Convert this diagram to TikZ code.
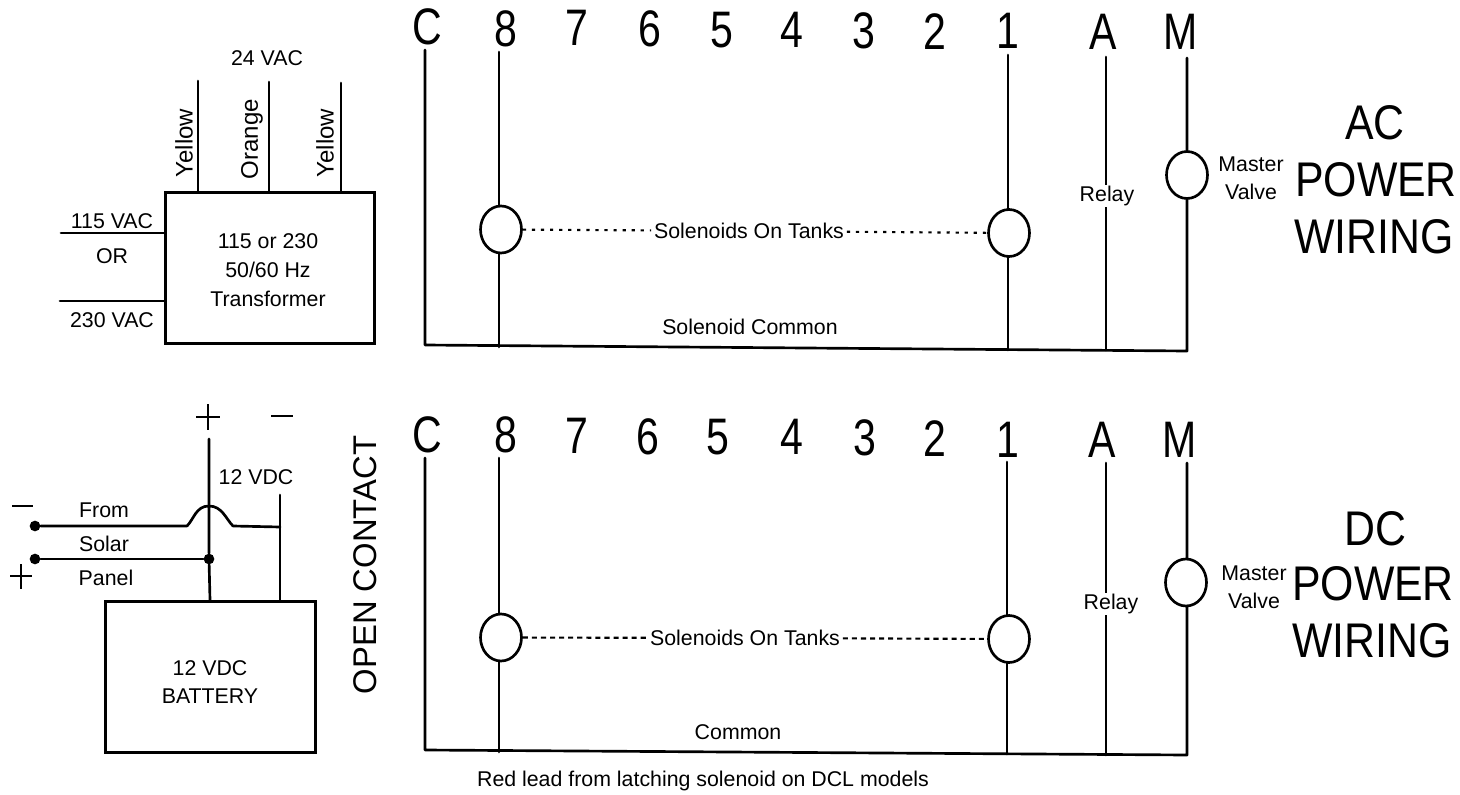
\documentclass[tikz,border=0pt]{standalone}
\usepackage{fontspec}
\usetikzlibrary{shapes.geometric}
\setmainfont{Liberation Sans}
\begin{document}
\begin{tikzpicture}[x=0.75pt,y=-0.75pt,
  wire/.style={line width=2pt,line cap=round,line join=round},
  lab/.style={inner sep=0pt,font=\fontsize{16}{19}\selectfont},
  small/.style={inner sep=0pt,align=center,font=\fontsize{16}{21}\selectfont},
  ctext/.style={inner sep=0pt,align=center,font=\fontsize{16}{21.5}\selectfont},
  vtext/.style={inner sep=0pt,font=\fontsize{18}{20}\selectfont,rotate=90,transform shape},
  term/.style={inner sep=0pt,anchor=base,font=\fontsize{38.5}{40}\selectfont,xscale=0.8,transform shape},
  big/.style={inner sep=0pt,anchor=base,font=\fontsize{36.5}{38}\selectfont,xscale=0.88,transform shape},
  box/.style={draw,line width=2pt,inner sep=0pt,anchor=north west},
  coil/.style={draw,fill=white,ellipse,line width=2pt,minimum width=41*0.75pt,minimum height=47*0.75pt,inner sep=0pt},
  dots/.style={line width=1.6pt,dash pattern=on 2.4pt off 4.4pt},
  dashes/.style={line width=1.6pt,dash pattern=on 3.8pt off 3pt},
  dotn/.style={fill=black,circle,inner sep=0pt,minimum size=8pt}]
\useasboundingbox (0,0) rectangle (1460,795);
\fill[white] (0,0) rectangle (1460,795);

% transformer
\node[box,minimum width=209*0.75pt,minimum height=151*0.75pt] (tr) at (164,191) {};
\node[ctext] (trt) at (268,270) {115 or 230\\50/60 Hz\\Transformer};
\coordinate (y1) at (198,81); \coordinate (o1) at (269,82); \coordinate (y2) at (341,83);
\draw[wire] (y1) -- (y1 |- tr.north);
\draw[wire] (o1) -- (o1 |- tr.north);
\draw[wire] (y2) -- (y2 |- tr.north);
\node[lab] (v24) at (267,58) {24 VAC};
\node[vtext] (ly1) at (184,143) {Yellow};
\node[vtext] (lo) at (252,139) {Orange};
\node[vtext] (ly2) at (325,143) {Yellow};
\coordinate (a115) at (61,233); \coordinate (a230) at (60,301);
\draw[wire] (a115) -- (a115 -| tr.west);
\draw[wire] (a230) -- (a230 -| tr.west);
\node[lab] (l115) at (112,221) {115 VAC};
\node[lab] (lor) at (112,256) {OR};
\node[lab] (l230) at (112,320) {230 VAC};

% battery
\node[box,minimum width=210*0.75pt,minimum height=151*0.75pt] (bat) at (104,600) {};
\node[ctext] (batt) at (210,682) {12 VDC\\BATTERY};
\node[dotn] (sm) at (35,526) {};
\node[dotn] (sp) at (35,559) {};
\node[dotn] (junc) at (209,559) {};
\coordinate (ptop) at (209,439);
\coordinate (ntop) at (280,495);
\draw[wire] (ptop) -- (junc) -- (210,600);
\draw[wire] (ntop) -- (280,600);
\draw[wire] (sm) -- (187,526) .. controls (194,519) and (196,506) .. (209,506) .. controls (222,506) and (226,519) .. (233,526) -- (280,527);
\draw[wire] (sp) -- (junc);
\node[lab] (v12) at (256,477) {12 VDC};
\node[lab] (lf) at (104,510) {From};
\node[lab] (ls) at (104,544) {Solar};
\node[lab] (lp) at (106,578) {Panel};
\coordinate (pa) at (196,417); \coordinate (pb) at (220,417);
\coordinate (pc) at (208,404); \coordinate (pd) at (208,430);
\draw[line width=1.2pt] (pa) -- (pb) (pc) -- (pd);
\coordinate (ma) at (271,416); \coordinate (mb) at (293,416);
\draw[line width=2.2pt] (ma) -- (mb);
\coordinate (la) at (12,506); \coordinate (lb) at (33,506);
\draw[line width=2.2pt] (la) -- (lb);
\coordinate (ra) at (10,576); \coordinate (rb) at (32,576);
\coordinate (rc) at (21,564); \coordinate (rd) at (21,589);
\draw[line width=1.2pt] (ra) -- (rb) (rc) -- (rd);
\node[inner sep=0pt,font=\fontsize{24.6}{26}\selectfont,rotate=90,transform shape] (oc) at (365,565) {OPEN CONTACT};

% AC terminals
\node[term] (tc) at (427,45) {C};
\node[term] (t8) at (506,47) {8};
\node[term] (t7) at (577,46) {7};
\node[term] (t6) at (650,47) {6};
\node[term] (t5) at (722,48) {5};
\node[term] (t4) at (792,48) {4};
\node[term] (t3) at (864,49) {3};
\node[term] (t2) at (935,50) {2};
\node[term] (t1) at (1008,49) {1};
\node[term] (ta) at (1103,50) {A};
\node[term] (tm) at (1181,50) {M};
\coordinate (bc) at (425,345);
\coordinate (bm) at (1187,351);
\draw[wire] (425,50) -- (bc) -- (bm) -- (1187,58);
\draw[wire] (499,52) -- (499,347);
\draw[wire] (1008,55) -- (1008,350);
\draw[wire] (1106,57) -- (1106,350);
\node[coil] (k8) at (501,229.5) {};
\node[coil] (k1) at (1009,233) {};
\node[coil] (km) at (1187,175) {};
\node[lab,fill=white,inner xsep=2pt,inner ysep=1pt] (lt) at (749,231) {Solenoids On Tanks};
\draw[dots] (k8) -- (lt);
\draw[dots] (lt) -- (k1);
\node[lab,fill=white,inner ysep=1pt] (rel) at (1107,196) {Relay};
\node[small] (mv) at (1251,178) {Master\\Valve};
\node[lab] (sc) at (750,327) {Solenoid Common};
\node[big] (w1) at (1375,140) {AC};
\node[big] (w2) at (1376,197) {POWER};
\node[big] (w3) at (1374,253) {WIRING};

% DC terminals
\node[term] (uc) at (427,452) {C};
\node[term] (u8) at (506,452) {8};
\node[term] (u7) at (577,453) {7};
\node[term] (u6) at (648,454) {6};
\node[term] (u5) at (718,454) {5};
\node[term] (u4) at (792,454) {4};
\node[term] (u3) at (865,455) {3};
\node[term] (u2) at (935,456) {2};
\node[term] (u1) at (1008,457) {1};
\node[term] (ua) at (1102,457) {A};
\node[term] (um) at (1180,457) {M};
\coordinate (dc) at (425,750);
\coordinate (dm) at (1187,755);
\draw[wire] (425,458) -- (dc) -- (dm) -- (1187,463);
\draw[wire] (499,458) -- (499,752);
\draw[wire] (1007,462) -- (1007,754);
\draw[wire] (1106,463) -- (1106,755);
\node[coil] (m8) at (501,637.5) {};
\node[coil] (m1) at (1009,639) {};
\node[coil] (mm) at (1186,582.5) {};
\node[lab,fill=white,inner xsep=2pt,inner ysep=1pt] (ldt) at (745,638) {Solenoids On Tanks};
\draw[dashes] (m8) -- (ldt);
\draw[dashes] (ldt) -- (m1);
\node[lab,fill=white,inner ysep=1pt] (drel) at (1111,604) {Relay};
\node[small] (dmv) at (1254,587) {Master\\Valve};
\node[lab] (dcom) at (738,732) {Common};
\node[lab] (red) at (703,781) {Red lead from latching solenoid on DCL models};
\node[big] (d1) at (1375,545) {DC};
\node[big] (d2) at (1373,600) {POWER};
\node[big] (d3) at (1372,657) {WIRING};
\end{tikzpicture}
\end{document}
